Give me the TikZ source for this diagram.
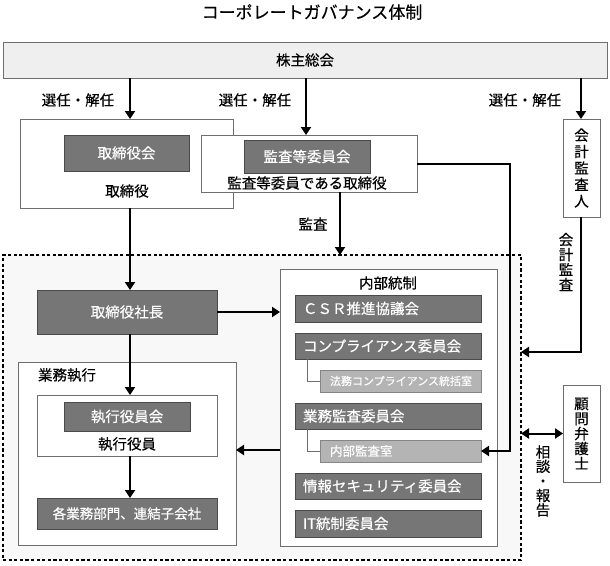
\documentclass[tikz,border=0pt]{standalone}
\usepackage{fontspec}
\setmainfont{Noto Sans CJK JP}[FakeBold=0.35]
\usetikzlibrary{arrows.meta}
\definecolor{darkfill}{HTML}{767676}
\definecolor{darkline}{HTML}{4A4A4A}
\definecolor{lightfill}{HTML}{B4B4B4}
\definecolor{lightline}{HTML}{858585}
\definecolor{boxline}{HTML}{6E6E6E}
\definecolor{shfill}{HTML}{EFEFEF}
\definecolor{zonefill}{HTML}{F8F8F8}
\tikzset{
  box/.style={draw=boxline, line width=0.8pt, fill=white, inner sep=0pt, outer sep=0pt},
  darkbox/.style={draw=darkline, line width=0.9pt, fill=darkfill, text=white, inner sep=0pt, outer sep=0pt, font=\fontsize{14.5}{16}\selectfont},
  darkleft/.style={darkbox, text width=#1, align=left},
  lightbox/.style={draw=lightline, line width=0.8pt, fill=lightfill, text=white, inner sep=0pt, outer sep=0pt, font=\fontsize{11}{13}\selectfont, text width=#1, align=left},
  lbl/.style={inner sep=0pt, font=\fontsize{14.5}{16}\selectfont},
  vlbl/.style={inner sep=0pt, align=center, font=\fontsize{14.5}{#1}\selectfont},
  arr/.style={line width=2pt, -{Triangle[length=8pt,width=10pt]}},
  darr/.style={line width=2pt, {Triangle[length=8pt,width=10pt]}-{Triangle[length=8pt,width=10pt]}},
  thinconn/.style={draw=boxline, line width=0.8pt},
  zone/.style={draw=black, fill=zonefill, line width=2.4pt, dash pattern=on 3.2pt off 2.4pt, inner sep=0pt, outer sep=0pt}
}
\begin{document}
\begin{tikzpicture}[x=1pt,y=-1pt]
\useasboundingbox (0,0) rectangle (610,565);
% column / row helpers
\coordinate (colA) at (130,0);
\coordinate (colB) at (306,0);
\coordinate (colC) at (581,0);
\coordinate (colD) at (340,0);
\coordinate (colE) at (510,0);
\coordinate (colH) at (307,0);
\coordinate (rowF) at (0,352);
\coordinate (rowG) at (0,450);

% title
\node[inner sep=0pt, font=\fontsize{17}{19}\selectfont] (title) at (312,12) {コーポレートガバナンス体制};

% shareholders
\node[box, fill=shfill, minimum width=604pt, minimum height=36pt, font=\fontsize{14.5}{16}\selectfont] (sh) at (305,60) {株主総会};

% dotted zone
\node[zone, minimum width=518pt, minimum height=305pt] (zone) at (262,407.5) {};

% board of directors
\node[box, minimum width=213pt, minimum height=89pt] (bod) at (126.5,163.5) {};
\node[darkbox, minimum width=125pt, minimum height=36pt] (bodc) at (126.5,153) {取締役会};
\node[lbl] (bodt) at (127,191) {取締役};

% audit committee
\node[box, minimum width=216pt, minimum height=57pt] (ac) at (309,163.5) {};
\node[darkbox, minimum width=126pt, minimum height=33pt] (acc) at (307,156.5) {監査等委員会};
\node[lbl] (act) at (307,183) {監査等委員である取締役};

% accounting auditor
\node[box, minimum width=37pt, minimum height=98pt] (aud) at (581.5,168) {};
\node[vlbl=16.5pt] (audt) at (581.5,168) {会\\計\\監\\査\\人};

% president
\node[darkbox, minimum width=180pt, minimum height=44pt] (pres) at (127,312) {取締役社長};

% internal control
\node[box, minimum width=217pt, minimum height=277pt] (ic) at (388.5,407.5) {};
\node[lbl] (ict) at (388,283) {内部統制};
\node[darkleft=170pt, minimum width=186pt, minimum height=27pt] (csr) at (388,308.5) {ＣＳＲ推進協議会};
\node[darkleft=170pt, minimum width=186pt, minimum height=26pt] (comp) at (388,346) {コンプライアンス委員会};
\node[lightbox=141pt, minimum width=161pt, minimum height=22pt] (legal) at (400.5,381) {法務コンプライアンス統括室};
\node[darkleft=170pt, minimum width=186pt, minimum height=26pt] (baud) at (388,416) {業務監査委員会};
\node[lightbox=141pt, minimum width=161pt, minimum height=22pt, font=\fontsize{12.5}{14}\selectfont] (ia) at (400.5,451) {内部監査室};
\node[darkleft=170pt, minimum width=186pt, minimum height=26pt] (isec) at (388,486) {情報セキュリティ委員会};
\node[darkleft=170pt, minimum width=186pt, minimum height=27pt] (itc) at (388,523.5) {IT統制委員会};

% business execution
\node[box, minimum width=218pt, minimum height=183pt] (exec) at (127,453.5) {};
\node[lbl] (exect) at (67,375) {業務執行};
\node[box, minimum width=180pt, minimum height=61pt] (eo) at (127,425.5) {};
\node[darkbox, minimum width=126pt, minimum height=29pt] (eoc) at (127,416.5) {執行役員会};
\node[lbl] (eot) at (127,444) {執行役員};
\node[darkbox, minimum width=180pt, minimum height=31pt, font=\fontsize{13.5}{15}\selectfont] (dept) at (127,513.5) {各業務部門、連結子会社};

% legal counsel
\node[box, minimum width=37pt, minimum height=97pt] (law) at (581.5,433.5) {};
\node[vlbl=15pt] (lawt) at (581.5,433.5) {顧\\問\\弁\\護\\士};

% labels
\node[lbl] (l1) at (78,100) {選任・解任};
\node[lbl] (l2) at (255,100) {選任・解任};
\node[lbl] (l3) at (525,100) {選任・解任};
\node[lbl] (l4) at (313,224) {監査};
\node[vlbl=15pt] (l5) at (566,262) {会\\計\\監\\査};
\node[vlbl=14.5pt] (l6) at (543,481) {相\\談\\・\\報\\告};

% connectors
\draw[arr] (sh.south -| colA) -- (bod.north -| colA);
\draw[arr] (sh.south -| colB) -- (ac.north -| colB);
\draw[arr] (sh.south -| colC) -- (aud.north -| colC);
\draw[arr] (ac.south -| colD) -- (zone.north -| colD);
\draw[arr] (bod.south -| colA) -- (pres.north -| colA);
\draw[arr] (pres.south -| colA) -- (eo.north -| colA);
\draw[arr] (eo.south -| colA) -- (dept.north -| colA);
\draw[arr] (pres.east) -- (pres.east -| ic.west);
\draw[arr] (ic.west |- rowG) -- (exec.east |- rowG);
\draw[arr] (ac.east) -- (ac.east -| colE) -- (colE |- ia.east) -- (ia.east);
\draw[arr] (aud.south -| colC) -- (colC |- rowF) -- (zone.east |- rowF);
\draw[darr] (zone.east |- law.west) -- (law.west);
\draw[thinconn] (comp.south -| colH) -- (colH |- legal.west) -- (legal.west);
\draw[thinconn] (baud.south -| colH) -- (colH |- ia.west) -- (ia.west);
\end{tikzpicture}
\end{document}
